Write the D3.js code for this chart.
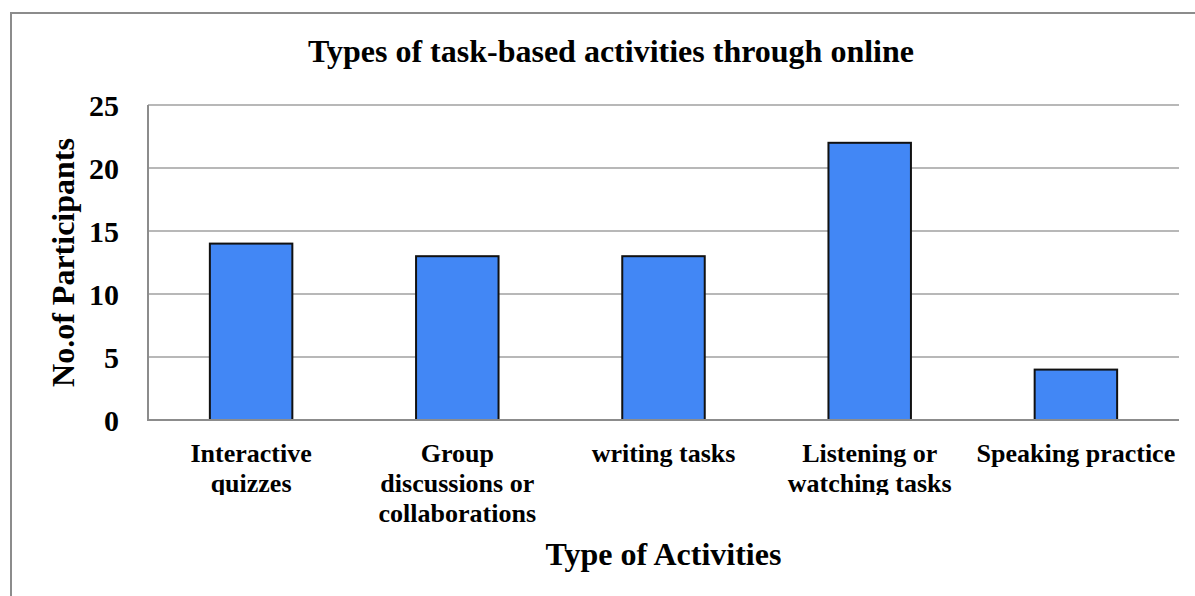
<!DOCTYPE html>
<html>
<head>
<meta charset="utf-8">
<script src="https://cdn.jsdelivr.net/npm/d3@7"></script>
<style>
  html, body { margin: 0; padding: 0; background: #fff; }
  svg { display: block; }
  text { font-family: "Liberation Serif", "Times New Roman", serif; font-weight: bold; fill: #000; }
</style>
</head>
<body>
<svg id="chart" width="1195" height="596"></svg>
<script>
// Activity categories (each entry is the wrapped lines of its axis label)
const categories = [
  ["Interactive", "quizzes"],
  ["Group", "discussions or", "collaborations"],
  ["writing tasks"],
  ["Listening or", "watching tasks"],
  ["Speaking practice"]
];
// Number of participants per activity
const participants = [14, 13, 13, 22, 4];
// Y axis ticks
const yTicks = [0, 5, 10, 15, 20, 25];

const chartTitle = "Types of task-based activities through online";
const xTitle = "Type of Activities";
const yTitle = "No.of Participants";

const svg = d3.select("#chart");
const plot = { left: 148, right: 1179, top: 105, bottom: 420 };

// Outer chart frame
svg.append("rect")
  .attr("x", 11).attr("y", 13)
  .attr("width", 1300).attr("height", 700)
  .attr("fill", "none").attr("stroke", "#8c8c8c").attr("stroke-width", 2);

const keys = categories.map((c, i) => i);
const x = d3.scaleBand()
  .domain(keys)
  .range([plot.left, plot.right])
  .paddingInner(0.6)
  .paddingOuter(0.3);

const y = d3.scaleLinear()
  .domain([0, 25])
  .range([plot.bottom, plot.top]);

// Horizontal gridlines
svg.append("g")
  .selectAll("line")
  .data(yTicks.filter(t => t > 0))
  .join("line")
  .attr("x1", plot.left).attr("x2", plot.right)
  .attr("y1", d => y(d)).attr("y2", d => y(d))
  .attr("stroke", "#b8b8b8").attr("stroke-width", 2);

// Y axis labels
const yAxis = d3.axisLeft(y).tickValues(yTicks).tickSize(0).tickPadding(0);
const yg = svg.append("g")
  .attr("transform", `translate(${plot.left - 29},0)`)
  .call(yAxis);
yg.select(".domain").remove();
yg.selectAll("text")
  .attr("font-size", 30)
  .attr("font-family", "Liberation Serif, Times New Roman, serif")
  .attr("font-weight", "bold")
  .attr("fill", "#000")
  .attr("dy", "0.35em");

// Bars
svg.append("g")
  .selectAll("rect")
  .data(participants)
  .join("rect")
  .attr("x", (d, i) => x(i))
  .attr("y", d => y(d))
  .attr("width", x.bandwidth())
  .attr("height", d => y(0) - y(d))
  .attr("fill", "#4287f5")
  .attr("stroke", "#111")
  .attr("stroke-width", 2);

// Axis lines
svg.append("line")
  .attr("x1", plot.left).attr("x2", plot.left)
  .attr("y1", plot.top).attr("y2", plot.bottom)
  .attr("stroke", "#8c8c8c").attr("stroke-width", 2);
svg.append("line")
  .attr("x1", plot.left - 1).attr("x2", plot.right)
  .attr("y1", plot.bottom).attr("y2", plot.bottom)
  .attr("stroke", "#8c8c8c").attr("stroke-width", 2);

// Category labels, wrapped over several lines
const clip = svg.append("defs").append("clipPath").attr("id", "labelClip");
clip.append("rect").attr("x", 0).attr("y", 0).attr("width", 1195).attr("height", 495);

const xg = svg.append("g");
categories.forEach((lines, i) => {
  const t = xg.append("text")
    .attr("x", x(i) + x.bandwidth() / 2)
    .attr("y", 462)
    .attr("text-anchor", "middle")
    .attr("font-size", 26);
  if (lines.length === 2) t.attr("clip-path", "url(#labelClip)");
  lines.forEach((ln, j) => {
    t.append("tspan")
      .attr("x", x(i) + x.bandwidth() / 2)
      .attr("dy", j === 0 ? 0 : 30)
      .text(ln);
  });
});

// Titles
svg.append("text")
  .attr("x", 611).attr("y", 62)
  .attr("text-anchor", "middle")
  .attr("font-size", 32)
  .text(chartTitle);

svg.append("text")
  .attr("x", (plot.left + plot.right) / 2).attr("y", 565)
  .attr("text-anchor", "middle")
  .attr("font-size", 32)
  .text(xTitle);

svg.append("text")
  .attr("transform", `translate(74,${(plot.top + plot.bottom) / 2}) rotate(-90)`)
  .attr("text-anchor", "middle")
  .attr("font-size", 32)
  .text(yTitle);
</script>
</body>
</html>
